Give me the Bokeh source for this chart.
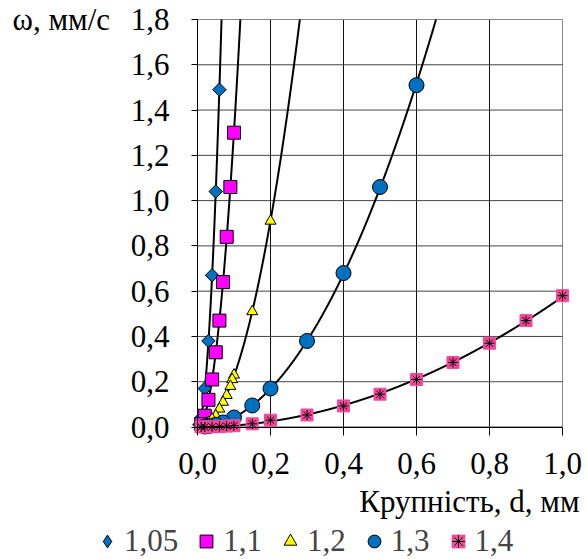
import numpy as np
from bokeh.plotting import figure
from bokeh.models import Label, Legend, LegendItem, FixedTicker, Range1d
from bokeh.embed import file_html
from bokeh.resources import INLINE

# ---- data ----
d_105 = [0.06, 0.05, 0.04, 0.03, 0.02, 0.01, 0.005]
w_105 = [1.49, 1.04, 0.67, 0.38, 0.17, 0.04, 0.01]

d_11 = [0.10, 0.09, 0.08, 0.07, 0.06, 0.05, 0.04, 0.03, 0.02, 0.01]
w_11 = [1.30, 1.06, 0.84, 0.64, 0.47, 0.33, 0.21, 0.12, 0.05, 0.013]

d_12 = [0.20, 0.15, 0.10, 0.095, 0.09, 0.08, 0.07, 0.06, 0.05, 0.04, 0.03, 0.02, 0.01]
w_12 = [0.91, 0.51, 0.23, 0.21, 0.18, 0.14, 0.11, 0.08, 0.05, 0.035, 0.02, 0.01, 0.003]

d_13 = [0.60, 0.50, 0.40, 0.30, 0.20, 0.15, 0.10, 0.07, 0.05, 0.03, 0.02]
w_13 = [1.51, 1.06, 0.68, 0.38, 0.17, 0.095, 0.042, 0.02, 0.01, 0.004, 0.002]

d_14 = [1.0, 0.9, 0.8, 0.7, 0.6, 0.5, 0.4, 0.3, 0.2, 0.15, 0.1, 0.08, 0.06, 0.04, 0.02, 0.01]
w_14 = [0.58, 0.47, 0.37, 0.285, 0.21, 0.145, 0.093, 0.053, 0.03, 0.014, 0.006, 0.004, 0.002, 0.001, 0.0003, 0.0001]

series_names = ["1,05", "1,1", "1,2", "1,3", "1,4"]
x_ticks = [0.0, 0.2, 0.4, 0.6, 0.8, 1.0]
x_tick_labels = ["0,0", "0,2", "0,4", "0,6", "0,8", "1,0"]
y_ticks = [0.0, 0.2, 0.4, 0.6, 0.8, 1.0, 1.2, 1.4, 1.6, 1.8]
y_tick_labels = ["0,0", "0,2", "0,4", "0,6", "0,8", "1,0", "1,2", "1,4", "1,6", "1,8"]
x_title = "Крупність, d, мм"
y_title = "ω, мм/с"

FONT = "'Liberation Serif', 'Times New Roman', serif"
FS = "31px"

# ---- layout: the plotting frame covers the whole canvas; the grid area is placed inside it
W, H = 586, 559
GX0, GX1 = 197.0, 562.0        # pixel columns of x = 0 and x = 1
GY0, GY1 = 426.5, 19.0         # pixel rows of y = 0 and y = 1.8
xmin, xmax = x_ticks[0], x_ticks[-1]
ymin, ymax = y_ticks[0], y_ticks[-1]
sx = (GX1 - GX0) / (xmax - xmin)
sy = (GY0 - GY1) / (ymax - ymin)
x_range = Range1d(xmin - GX0 / sx, xmin + (W - GX0) / sx)
y_range = Range1d(ymin - (H - GY0) / sy, ymin + GY0 / sy)

p = figure(width=W, height=H, output_backend="svg", toolbar_location=None,
           x_range=x_range, y_range=y_range,
           min_border_left=0, min_border_right=0, min_border_top=0, min_border_bottom=0)
p.background_fill_color = "white"
p.border_fill_color = "white"
p.outline_line_color = None
p.grid.visible = False

# grid drawn only over the data area
vcol = ["#111111"] * (len(x_ticks) - 1) + ["#888888"]
hcol = ["#444444"] * (len(y_ticks) - 1) + ["#888888"]
p.segment(x0=x_ticks, y0=[ymin] * len(x_ticks), x1=x_ticks, y1=[ymax] * len(x_ticks),
          line_color=vcol, line_width=1)
p.segment(x0=[xmin] * len(y_ticks), y0=y_ticks, x1=[xmax] * len(y_ticks), y1=y_ticks,
          line_color=hcol, line_width=1)

for ax, ticks, labels, bnd in [(p.xaxis[0], x_ticks, x_tick_labels, (xmin, xmax)),
                               (p.yaxis[0], y_ticks, y_tick_labels, (ymin, ymax))]:
    ax.fixed_location = 0
    ax.bounds = bnd
    ax.ticker = FixedTicker(ticks=ticks)
    ax.major_label_overrides = {t: l for t, l in zip(ticks, labels)}
    ax.major_label_text_font = FONT
    ax.major_label_text_font_size = FS
    ax.major_label_text_color = "black"
    ax.axis_line_color = "black"
    ax.axis_line_width = 1
    ax.major_tick_line_color = "black"
    ax.minor_tick_line_color = None
    ax.major_tick_in = 0
p.xaxis.major_tick_out = 8
p.yaxis.major_tick_out = 6
p.xaxis.major_label_standoff = 18
p.yaxis.major_label_standoff = 22


def power_trend(d, w):
    """Power trendline (as in a spreadsheet) fitted to the read points."""
    d = np.asarray(d, float)
    w = np.asarray(w, float)
    b, loga = np.polyfit(np.log(d), np.log(w), 1, w=np.sqrt(w))
    a = np.exp(loga)
    x_end = min(xmax, (ymax / a) ** (1.0 / b))
    xs = np.linspace(0.001, x_end, 1200)
    return xs, a * xs ** b

all_d = [d_105, d_11, d_12, d_13, d_14]
all_w = [w_105, w_11, w_12, w_13, w_14]
for d, w in zip(all_d, all_w):
    xs, ys = power_trend(d, w)
    p.line(xs, ys, line_color="black", line_width=2)

# diamond key for the legend (hidden beneath the rotated-square markers drawn on top)
r1_key = p.scatter(d_105, w_105, marker="diamond", size=10,
                   fill_color="#0070C0", line_color="black", line_width=1)
r1 = p.scatter(d_105, w_105, marker="square", angle=np.pi / 4, size=9.5,
               fill_color="#0070C0", line_color="black", line_width=1)
r2 = p.scatter(d_11, w_11, marker="square", size=13,
               fill_color="#FF00FF", line_color="black", line_width=1)
r3 = p.scatter(d_12, w_12, marker="triangle", size=11,
               fill_color="#FFFF00", line_color="black", line_width=1)
r4 = p.scatter(d_13, w_13, marker="circle", size=15,
               fill_color="#0070C0", line_color="black", line_width=1)
r5a = p.scatter(d_14, w_14, marker="square", size=12,
                fill_color="#F4489C", line_color="#F4489C", line_width=1)
r5b = p.scatter(d_14, w_14, marker="asterisk", size=10,
                line_color="black", line_width=1)

legend = Legend(items=[
    LegendItem(label=series_names[0], renderers=[r1_key]),
    LegendItem(label=series_names[1], renderers=[r2]),
    LegendItem(label=series_names[2], renderers=[r3]),
    LegendItem(label=series_names[3], renderers=[r4]),
    LegendItem(label=series_names[4], renderers=[r5a, r5b]),
], orientation="horizontal", location=(91, 0))
legend.label_text_font = FONT
legend.label_text_font_size = FS
legend.glyph_width = 32
legend.glyph_height = 32
legend.label_height = 32
legend.label_standoff = 1
legend.spacing = 12
legend.padding = 0
legend.margin = 0
legend.border_line_color = None
legend.background_fill_alpha = 0
p.add_layout(legend, "center")

p.add_layout(Label(x=xmin + (12 - GX0) / sx, y=ymax, text=y_title,
                   text_font=FONT, text_font_size=FS, text_baseline="middle",
                   text_align="left", text_color="black"))
p.add_layout(Label(x=xmin + (579 - GX0) / sx, y=ymin - (501 - GY0) / sy, text=x_title,
                   text_font=FONT, text_font_size=FS, text_baseline="middle",
                   text_align="right", text_color="black"))

open("out.html", "w").write(file_html(p, INLINE))
